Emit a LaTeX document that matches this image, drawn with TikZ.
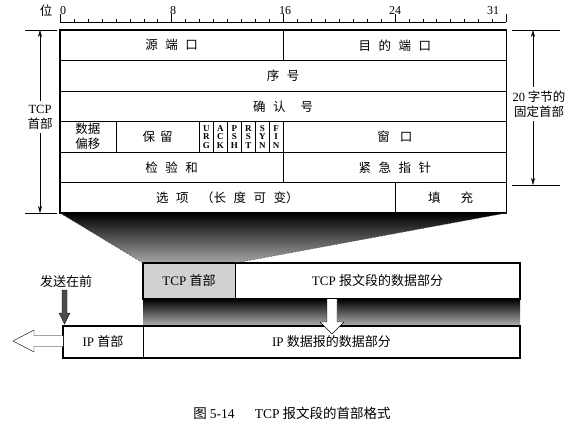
\documentclass[tikz,border=0pt]{standalone}
\usepackage{fontspec}
\setmainfont{Liberation Serif}
\newfontfamily\cjk{Noto Sans CJK SC}
\usetikzlibrary{arrows.meta,backgrounds}
\newcommand\cgap{\hspace{0.6em}}
\def\bw{13.95}

\begin{document}
\begin{tikzpicture}[x=1pt, y=-1pt, font=\fontsize{12}{14}\selectfont,
  cn/.style={font=\cjk\fontsize{#1}{#1}\selectfont},
  field/.style={draw, anchor=north west, minimum height=30.5, inner sep=0pt, outer sep=0pt, font=\cjk\fontsize{12.5}{15}\selectfont},
  flag/.style={field, minimum width=\bw, align=center, font=\bfseries\fontsize{9}{8.6}\selectfont},
  blk/.style={draw, anchor=north west, minimum height=36, inner sep=0pt, outer sep=0pt, font=\fontsize{13}{15}\selectfont},
  dim/.style={-{Stealth[length=7pt,width=4pt]}}]
\useasboundingbox (0,0) rectangle (580,430);

% Ruler
\draw (46,11) node[cn=12.5] (bitlbl) {位};
\draw (60,22) -- ({60+32*\bw},22);
\foreach \b in {1,...,31} \draw ({60+\b*\bw},22) -- ++(0,-3);
\foreach \b in {0,8,16,24,32} \draw ({60+\b*\bw},22) -- ++(0,-8);
\foreach \x/\l in {63/0,173/8,285/16,395/24,493/31} \draw (\x,11) node (bit\l) {\l};

% Header fields
\draw (60,30) node[field, minimum width=16*\bw] (src) {源\cgap 端\cgap 口};
\draw (src.north east) node[field, minimum width=16*\bw] (dst) {目\cgap 的\cgap 端\cgap 口};
\draw (src.south west) node[field, minimum width=32*\bw] (seq) {序\cgap 号};
\draw (seq.south west) node[field, minimum width=32*\bw] (ack) {确\cgap 认\hspace{1.2em}号};
\draw (ack.south west) node[field, minimum width=4*\bw, align=center] (off) {数据\\偏移};
\draw (off.north east) node[field, minimum width=6*\bw] (rsv) {保\hspace{0.4em}留};
\foreach \f [count=\i from 10] in {{U\\R\\G},{A\\C\\K},{P\\S\\H},{R\\S\\T},{S\\Y\\N},{F\\I\\N}}
  \draw ({60+\i*\bw},121.5) node[flag] (f\i) {\f};
\draw (f15.north east) node[field, minimum width=16*\bw] (win) {窗\hspace{0.8em}口};
\draw (off.south west) node[field, minimum width=16*\bw] (chk) {检\cgap 验\cgap 和};
\draw (chk.north east) node[field, minimum width=16*\bw] (urg) {紧\cgap 急\cgap 指\cgap 针};
\draw (chk.south west) node[field, minimum width=24*\bw] (opt) {选\cgap 项\hspace{1em}（长\cgap 度\cgap 可\cgap 变）};
\draw (opt.north east) node[field, minimum width=8*\bw] (pad) {填\hspace{1.6em}充};
\draw[line width=1.2pt] (src.north west) rectangle (pad.south east);

% TCP header size
\draw (25,30) -- (57,30);
\draw (25,213) -- (57,213);
\coordinate (lt) at (40,30);
\coordinate (lb) at (40,213);
\draw (40,117) node[align=center, font=\fontsize{12.5}{15}\selectfont] (tcphdr) {TCP\\{\cjk 首部}};
\draw[dim] (tcphdr.north) -- (lt);
\draw[dim] (tcphdr.south) -- (lb);

\draw (512,30) -- (560,30);
\draw (512,185) -- (560,185);
\coordinate (rt) at (533,30);
\coordinate (rb) at (533,185);
\draw (539,104) node[align=center, font=\cjk\fontsize{12.5}{15}\selectfont] (fixhdr) {{\rmfamily 20} 字节的\\固定首部};
\draw[dim] (fixhdr.north -| rt) -- (rt);
\draw[dim] (fixhdr.south -| rt) -- (rb);

% TCP segment
\draw (143,263) node[blk, fill=black!18, minimum width=92] (tcph) {TCP {\cjk 首部}};
\draw (tcph.north east) node[blk, fill=white, minimum width=285] (tcpd) {TCP {\cjk 报文段的数据部分}};
\draw[line width=1.2pt] (tcph.north west) rectangle (tcpd.south east);

% IP datagram
\draw (63,326) node[blk, fill=white, minimum width=80, minimum height=32] (iph) {IP {\cjk 首部}};
\draw (iph.north east) node[blk, fill=white, minimum width=377, minimum height=32] (ipd) {IP {\cjk 数据报的数据部分}};
\draw[line width=1.2pt] (iph.north west) rectangle (ipd.south east);

% Shadings
\begin{scope}[on background layer]
\shade[top color=black, middle color=black!90, bottom color=black!35] (opt.south west) -- (pad.south east) -- (tcph.north east) -- (tcph.north west) -- cycle;
\shade[top color=black, bottom color=black!30] (tcph.south west) rectangle (ipd.north east);
\end{scope}
\draw[dash pattern=on 2pt off 1.5pt, black!70] (opt.south west) -- (tcph.north west);
\draw[dash pattern=on 2pt off 1.5pt, black!70] (pad.south east) -- (tcph.north east);

% Block arrows
\draw[fill=white] (327,299) -- (327,322) -- (320,322) -- (332,334) -- (344,322) -- (337,322) -- (337,299);
\draw[fill=white] (63,335.5) -- (34,335.5) -- (34,330) -- (13,341) -- (34,352) -- (34,346.5) -- (63,346.5);
\draw (66,282) node[cn=13] (sendfirst) {发送在前};
\draw[fill=black!70] (62,290) -- (62,313) -- (59,313) -- (64.5,324) -- (70,313) -- (67,313) -- (67,290) -- cycle;

% Caption
\draw (292,413) node[cn=13.5] (caption) {图 {\rmfamily 5-14}\hspace{1.5em}{\rmfamily TCP} 报文段的首部格式};
\end{tikzpicture}
\end{document}
